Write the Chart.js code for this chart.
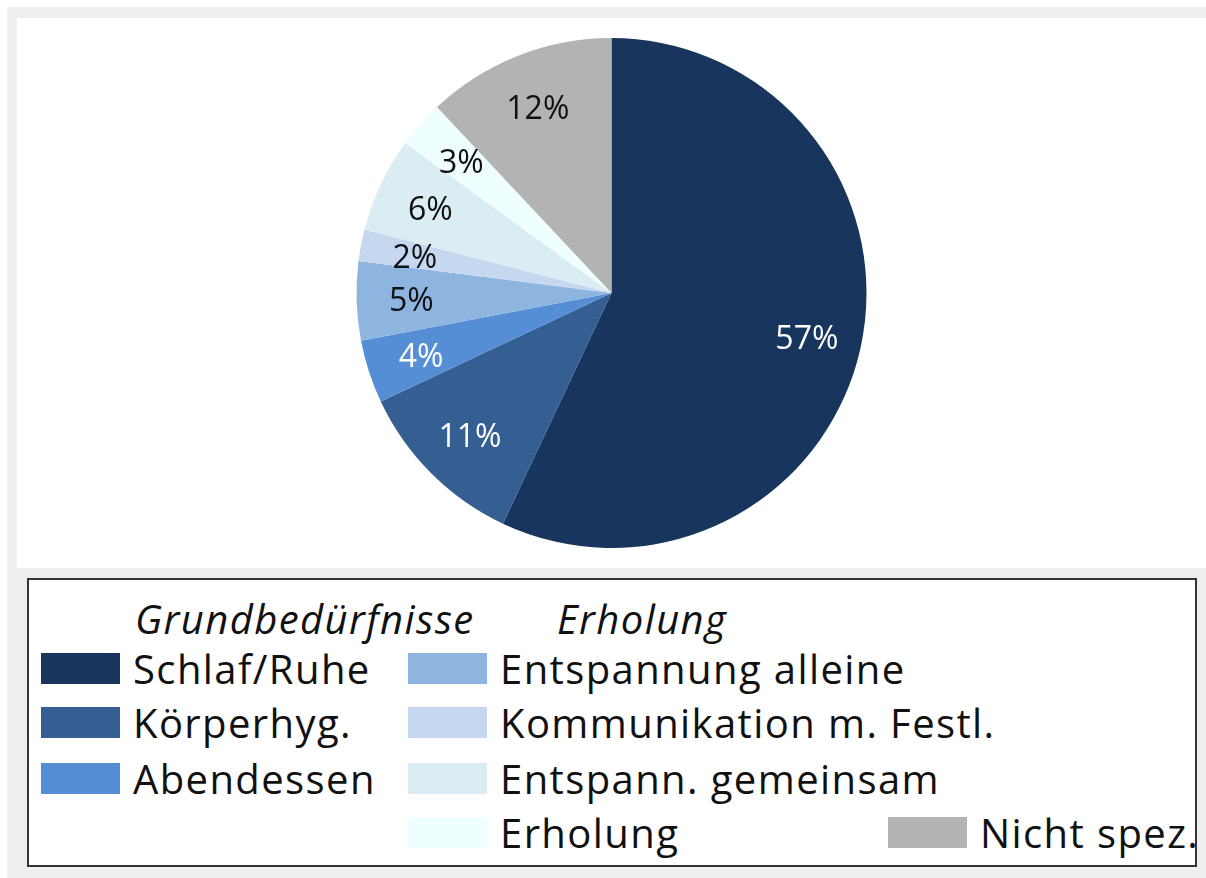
<!DOCTYPE html>
<html lang="de">
<head>
    <meta charset="UTF-8">
    <title>Zeitverwendung</title>
    <style>
        html, body {
            margin: 0;
            padding: 0;
            background: #ffffff;
        }
        .page {
            position: absolute;
            left: 7px;
            top: 7px;
            width: 1199px;
            height: 871px;
            background: #efefef;
        }
        .chart-panel {
            position: absolute;
            left: 10px;
            top: 11px;
            width: 1189px;
            height: 550px;
            background: #ffffff;
        }
        .legend-box {
            position: absolute;
            left: 20px;
            top: 571px;
            width: 1166px;
            height: 285px;
            background: #ffffff;
            border: 2px solid #333333;
            font-family: "Open Sans", sans-serif;
            color: #111111;
        }
        .legend-head {
            position: absolute;
            font-style: italic;
            font-size: 40px;
            letter-spacing: 1.4px;
            line-height: 31px;
            height: 31px;
        }
        .legend-item {
            position: absolute;
            display: flex;
            align-items: center;
            height: 31px;
            font-size: 40px;
            letter-spacing: 1.4px;
            line-height: 31px;
            white-space: nowrap;
        }
        .legend-item .swatch {
            width: 79px;
            height: 31px;
            margin-right: 13px;
        }
    </style>
    <script src="https://cdn.jsdelivr.net/npm/chart.js"></script>
</head>
<body>
    <div class="page">
        <div class="chart-panel">
            <canvas id="pieChart" width="1189" height="550"></canvas>
        </div>
        <div class="legend-box" id="legend"></div>
    </div>

    <script>
        // Data
        const categories = ['Schlaf/Ruhe', 'Körperhyg.', 'Abendessen', 'Entspannung alleine',
            'Kommunikation m. Festl.', 'Entspann. gemeinsam', 'Erholung', 'Nicht spez.'];
        const shares = [57, 11, 4, 5, 2, 6, 3, 12];
        const sliceColors = ['#18365d', '#355e92', '#558ed5', '#8eb4e0', '#c6d8f0', '#daedf3', '#effeff', '#b3b3b3'];
        const labelColors = ['#ffffff', '#ffffff', '#ffffff', '#111111', '#111111', '#111111', '#111111', '#111111'];
        const groupTitles = ['Grundbedürfnisse', 'Erholung'];

        // percentage labels inside the slices
        const sliceLabels = {
            id: 'sliceLabels',
            afterDatasetsDraw(chart) {
                const ctx = chart.ctx;
                const arcs = chart.getDatasetMeta(0).data;
                ctx.save();
                ctx.font = '32px "Open Sans", sans-serif';
                ctx.textAlign = 'center';
                ctx.textBaseline = 'middle';
                arcs.forEach((arc, i) => {
                    const p = arc.getProps(['x', 'y', 'startAngle', 'endAngle', 'outerRadius'], true);
                    const mid = (p.startAngle + p.endAngle) / 2;
                    const r = p.outerRadius * 0.785;
                    ctx.fillStyle = labelColors[i];
                    ctx.fillText(shares[i] + '%', p.x + Math.cos(mid) * r, p.y + Math.sin(mid) * r + 3);
                });
                ctx.restore();
            }
        };

        const chart = new Chart(document.getElementById('pieChart'), {
            type: 'pie',
            data: {
                labels: categories,
                datasets: [{
                    data: shares,
                    backgroundColor: sliceColors,
                    borderWidth: 0
                }]
            },
            options: {
                responsive: false,
                animation: false,
                layout: { padding: 20 },
                plugins: {
                    legend: { display: false },
                    tooltip: { enabled: false }
                }
            },
            plugins: [sliceLabels]
        });

        // Legend (two groups + the unassigned one), coordinates relative to the box
        const legend = document.getElementById('legend');
        const rowTops = [73, 127, 183, 237];
        const heads = [[106, 23], [528, 23]];
        groupTitles.forEach((t, i) => {
            const d = document.createElement('div');
            d.className = 'legend-head';
            d.style.left = heads[i][0] + 'px';
            d.style.top = heads[i][1] + 'px';
            d.textContent = t;
            legend.appendChild(d);
        });
        const slots = [[12, 0], [12, 1], [12, 2], [379, 0], [379, 1], [379, 2], [379, 3], [859, 3]];
        categories.forEach((name, i) => {
            const item = document.createElement('div');
            item.className = 'legend-item';
            item.style.left = slots[i][0] + 'px';
            item.style.top = rowTops[slots[i][1]] + 'px';
            const sw = document.createElement('span');
            sw.className = 'swatch';
            sw.style.background = sliceColors[i];
            const tx = document.createElement('span');
            tx.textContent = name;
            item.appendChild(sw);
            item.appendChild(tx);
            legend.appendChild(item);
        });
    </script>
</body>
</html>
